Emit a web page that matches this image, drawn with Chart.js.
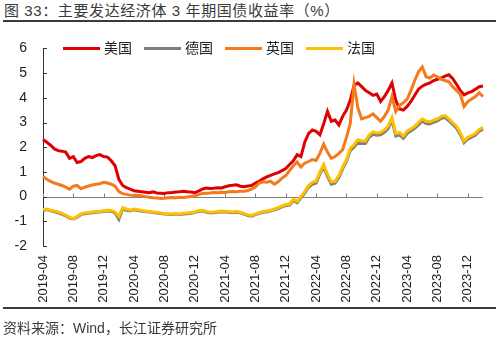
<!DOCTYPE html>
<html>
<head>
<meta charset="utf-8">
<script src="https://cdn.jsdelivr.net/npm/chart.js@4.4.0/dist/chart.umd.min.js"></script>
<style>
body { margin: 0; background: #fff; font-family: "Liberation Sans", "Noto Sans CJK SC", sans-serif; color: #333; }
#wrap { position: relative; width: 500px; height: 339px; overflow: hidden; }
#title { position: absolute; left: 4px; top: 1px; font-size: 15px; line-height: 20px; letter-spacing: 0.6px; white-space: nowrap; color: #3a3a3a; }
.rule { position: absolute; left: 3px; width: 493px; height: 2px; background: #3a3a3a; }
#chartBox { position: absolute; left: 0; top: 24px; }
#legend { position: absolute; left: 63px; top: 40px; display: flex; font-size: 14px; line-height: 16px; color: #222; }
.item { display: flex; align-items: center; margin-right: 12px; }
.swatch { width: 37px; height: 3px; margin-right: 4px; }
#source { position: absolute; left: 3px; top: 319px; font-size: 14px; line-height: 18px; white-space: nowrap; color: #3a3a3a; }
</style>
</head>
<body>
<div id="wrap">
  <div id="title">图 33：主要发达经济体 3 年期国债收益率（%）</div>
  <div class="rule" style="top:20px"></div>
  <div id="chartBox"><canvas id="chartYield" width="500" height="284"></canvas></div>
  <div id="legend"></div>
  <div class="rule" style="top:307px"></div>
  <div id="source">资料来源：Wind，长江证券研究所</div>
</div>
<script>
// semi-monthly observations, 2019-04-01 .. 2024-02-01
var dates = [];
for (var k = 0; k < 117; k++) {
    var m = 3 + Math.floor(k / 2);
    var yr = 2019 + Math.floor(m / 12);
    var mo = m % 12 + 1;
    dates.push(yr + '-' + (mo < 10 ? '0' : '') + mo + (k % 2 ? '-15' : '-01'));
}

var tickMonths = ['2019-04', '2019-08', '2019-12', '2020-04', '2020-08', '2020-12', '2021-04', '2021-08',
    '2021-12', '2022-04', '2022-08', '2022-12', '2023-04', '2023-08', '2023-12'];

var names = ['美国', '德国', '英国', '法国'];
var colors = ['#e00000', '#7f7f7f', '#f47a1c', '#ffc000'];

var usYield = [2.31, 2.2, 2.08, 1.93, 1.86, 1.84, 1.8, 1.55, 1.62, 1.38, 1.42, 1.55, 1.62, 1.58, 1.66, 1.7, 1.62, 1.6, 1.45, 1.25,
    0.7, 0.45, 0.36, 0.3, 0.24, 0.22, 0.2, 0.18, 0.16, 0.19, 0.15, 0.14, 0.13, 0.16, 0.17, 0.19, 0.2, 0.22, 0.2, 0.19,
    0.16, 0.22, 0.3, 0.35, 0.33, 0.34, 0.36, 0.35, 0.4, 0.44, 0.46, 0.48, 0.42, 0.4, 0.43, 0.45, 0.55, 0.62, 0.72, 0.8,
    0.86, 0.92, 0.97, 1.05, 1.14, 1.3, 1.45, 1.7, 1.62, 2.2, 2.55, 2.7, 2.64, 2.5, 2.95, 3.45, 3.05, 3.1, 2.9, 3.25,
    3.5, 3.9, 4.5, 4.6, 4.45, 4.3, 4.2, 4.1, 4.15, 3.85, 4.05, 4.3, 4.6, 3.9, 3.55, 3.5, 3.65, 3.85, 4.1, 4.35,
    4.47, 4.55, 4.6, 4.7, 4.75, 4.8, 4.88, 4.93, 4.78, 4.55, 4.3, 4.12, 4.2, 4.25, 4.35, 4.45, 4.48];

var deYield = [-0.55, -0.53, -0.58, -0.62, -0.66, -0.72, -0.78, -0.87, -0.9, -0.83, -0.73, -0.69, -0.67, -0.65, -0.63, -0.62, -0.6, -0.58, -0.6, -0.66,
    -0.92, -0.5, -0.55, -0.58, -0.53, -0.56, -0.59, -0.6, -0.62, -0.64, -0.66, -0.68, -0.7, -0.71, -0.72, -0.7, -0.72, -0.7, -0.69, -0.67,
    -0.65, -0.6, -0.58, -0.63, -0.66, -0.65, -0.63, -0.61, -0.62, -0.63, -0.65, -0.63, -0.66, -0.71, -0.77, -0.79, -0.73, -0.68, -0.63, -0.61,
    -0.58, -0.53, -0.49, -0.42, -0.36, -0.34, -0.15, -0.25, -0.05, 0.14, 0.38, 0.5, 0.55, 0.92, 1.2, 0.82, 0.5, 0.54, 0.77, 1.12,
    1.42, 1.86, 2.0, 2.2, 2.15, 2.15, 2.4, 2.52, 2.48, 2.5, 2.6, 2.75, 3.1, 2.45, 2.5, 2.36, 2.55, 2.66, 2.76, 2.9,
    3.06, 2.96, 2.94, 3.01, 3.06, 3.17, 3.2, 3.07, 2.92, 2.77, 2.52, 2.18, 2.33, 2.41, 2.48, 2.65, 2.73];

var ukYield = [0.81, 0.7, 0.62, 0.55, 0.5, 0.45, 0.38, 0.3, 0.42, 0.45, 0.32, 0.38, 0.43, 0.47, 0.5, 0.52, 0.58, 0.55, 0.5, 0.42,
    0.2, 0.12, 0.09, 0.06, 0.04, 0.05, 0.03, 0.0, -0.03, -0.05, -0.06, -0.08, -0.07, -0.05, -0.04, -0.05, -0.03, -0.04, -0.02, 0.0,
    0.02, 0.08, 0.13, 0.14, 0.15, 0.17, 0.16, 0.18, 0.17, 0.2, 0.21, 0.2, 0.22, 0.22, 0.25, 0.3, 0.4, 0.55, 0.6, 0.58,
    0.62, 0.5, 0.6, 0.75, 0.85, 1.05, 1.25, 1.4, 1.2, 1.35, 1.42, 1.5, 1.46, 1.75, 2.12, 1.8, 1.55, 1.62, 1.75, 1.9,
    2.4, 2.95, 4.55, 3.6, 3.15, 3.2, 3.25, 3.35, 3.2, 3.05, 3.25, 3.5, 4.05, 3.45, 3.7, 3.8, 3.95, 4.3, 4.7, 5.05,
    5.25, 4.85, 4.8, 4.92, 4.85, 4.75, 4.7, 4.65, 4.45, 4.3, 4.15, 3.65, 3.85, 3.95, 4.05, 4.2, 4.05];

var frYield = [-0.52, -0.5, -0.55, -0.58, -0.62, -0.68, -0.75, -0.84, -0.89, -0.8, -0.7, -0.66, -0.64, -0.62, -0.6, -0.6, -0.57, -0.55, -0.56, -0.62,
    -0.8, -0.45, -0.5, -0.55, -0.5, -0.53, -0.56, -0.58, -0.6, -0.62, -0.63, -0.66, -0.68, -0.69, -0.7, -0.68, -0.7, -0.67, -0.66, -0.64,
    -0.62, -0.57, -0.55, -0.6, -0.63, -0.62, -0.6, -0.58, -0.59, -0.6, -0.62, -0.6, -0.63, -0.68, -0.74, -0.76, -0.7, -0.65, -0.6, -0.58,
    -0.55, -0.5, -0.45, -0.38, -0.32, -0.3, -0.1, -0.2, 0.0, 0.2, 0.45, 0.58, 0.63, 1.0, 1.3, 0.9, 0.6, 0.62, 0.85, 1.2,
    1.5, 1.95, 2.1, 2.3, 2.25, 2.25, 2.5, 2.62, 2.58, 2.6, 2.7, 2.85, 3.2, 2.55, 2.6, 2.45, 2.65, 2.75, 2.85, 3.0,
    3.15, 3.05, 3.03, 3.1, 3.15, 3.25, 3.28, 3.15, 3.0, 2.85, 2.6, 2.25, 2.4, 2.48, 2.55, 2.72, 2.8];

var series = [usYield, deYield, ukYield, frYield];
var drawOrder = [2, 3, 1, 0];

// zero line with its small upward ticks, plus inward ticks on the value axis
var axisMarks = {
    id: 'axisMarks',
    beforeDatasetsDraw: function(chart) {
        var ctx = chart.ctx, xs = chart.scales.x, ys = chart.scales.y, area = chart.chartArea;
        var y0 = Math.round(ys.getPixelForValue(0)) + 0.5;
        ctx.save();
        ctx.lineWidth = 1;
        ctx.strokeStyle = '#808080';
        ctx.beginPath();
        ctx.moveTo(area.left, y0);
        ctx.lineTo(area.right, y0);
        tickMonths.forEach(function(t) {
            var x = Math.round(xs.getPixelForValue(dates.indexOf(t + '-01'))) + 0.5;
            ctx.moveTo(x, y0);
            ctx.lineTo(x, y0 - 4);
        });
        ctx.stroke();
        ctx.strokeStyle = '#333';
        ctx.beginPath();
        ys.ticks.forEach(function(t) {
            var y = Math.round(ys.getPixelForValue(t.value)) + 0.5;
            ctx.moveTo(area.left, y);
            ctx.lineTo(area.left + 4, y);
        });
        ctx.stroke();
        ctx.restore();
    }
};

var chartYield = new Chart(document.getElementById('chartYield'), {
    type: 'line',
    data: {
        labels: dates,
        datasets: names.map(function(n, i) {
            return {
                label: n,
                data: series[i],
                borderColor: colors[i],
                backgroundColor: colors[i],
                borderWidth: 3,
                pointRadius: 0,
                tension: 0,
                fill: false,
                order: drawOrder[i]
            };
        })
    },
    options: {
        responsive: false,
        animation: false,
        devicePixelRatio: 1,
        layout: { padding: { left: 0, right: 17, top: 18, bottom: 0 } },
        plugins: {
            legend: { display: false },
            tooltip: { enabled: false }
        },
        scales: {
            x: {
                type: 'category',
                offset: false,
                grid: { display: false, drawTicks: false },
                border: { display: false },
                afterFit: function(scale) { scale.height = 62; },
                ticks: {
                    autoSkip: false,
                    minRotation: 90,
                    maxRotation: 90,
                    padding: 9,
                    color: '#222',
                    font: { family: 'Liberation Sans', size: 13 },
                    callback: function(value) {
                        var d = dates[value];
                        return d.slice(8) === '01' && tickMonths.indexOf(d.slice(0, 7)) >= 0 ? d.slice(0, 7) : null;
                    }
                }
            },
            y: {
                min: -2,
                max: 6,
                grid: { display: false, drawTicks: false },
                border: { display: true, color: '#333', width: 1 },
                afterFit: function(scale) { scale.width = 43; },
                ticks: {
                    stepSize: 1,
                    padding: 16,
                    color: '#222',
                    font: { family: 'Liberation Sans', size: 14 }
                }
            }
        }
    },
    plugins: [axisMarks]
});

// legend row drawn over the top of the plot
var legend = document.getElementById('legend');
names.forEach(function(n, i) {
    var item = document.createElement('div');
    item.className = 'item';
    var sw = document.createElement('span');
    sw.className = 'swatch';
    sw.style.background = colors[i];
    var tx = document.createElement('span');
    tx.textContent = n;
    item.appendChild(sw);
    item.appendChild(tx);
    legend.appendChild(item);
});
</script>
</body>
</html>
